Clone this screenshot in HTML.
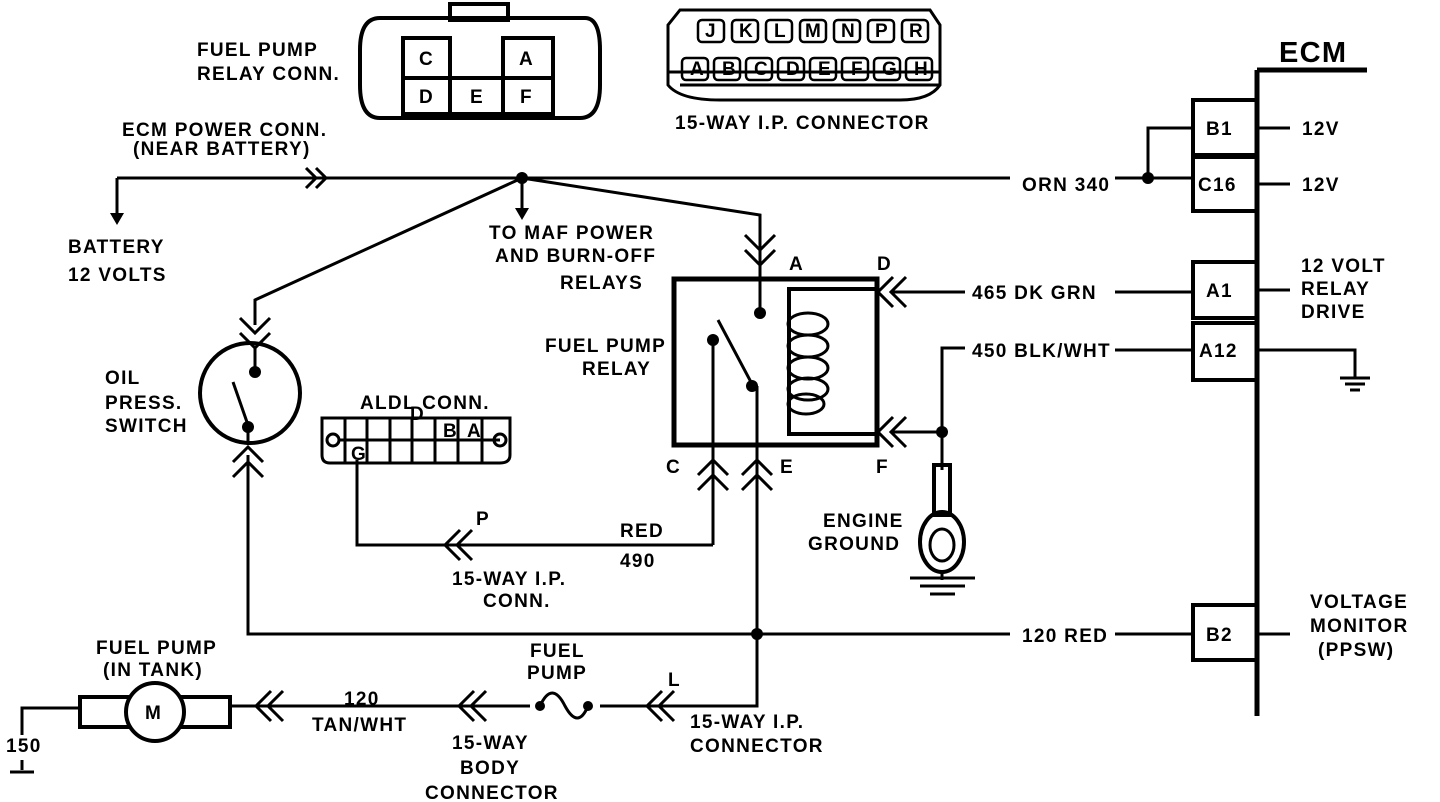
<!DOCTYPE html>
<html><head><style>
html,body{margin:0;padding:0;background:#fff;width:1440px;height:802px;overflow:hidden}
svg text{font-family:"Liberation Sans",sans-serif;font-weight:bold;font-size:19px;letter-spacing:1.3px;fill:#000}
</style></head><body>
<svg width="1440" height="802" viewBox="0 0 1440 802" xmlns="http://www.w3.org/2000/svg">
<g stroke="#000" fill="none" stroke-width="3">
<line x1="1257" y1="70" x2="1257" y2="716" stroke-width="5"/>
<line x1="1257" y1="70" x2="1367" y2="70" stroke-width="5"/>
<rect x="1193" y="100" width="64" height="55" stroke-width="4"/>
<rect x="1193" y="157" width="64" height="54" stroke-width="4"/>
<rect x="1193" y="262" width="64" height="56" stroke-width="4"/>
<rect x="1193" y="323" width="64" height="57" stroke-width="4"/>
<rect x="1193" y="605" width="64" height="55" stroke-width="4"/>
<line x1="1257" y1="128" x2="1290" y2="128"/>
<line x1="1257" y1="184" x2="1290" y2="184"/>
<line x1="1257" y1="290" x2="1290" y2="290"/>
<line x1="1257" y1="634" x2="1290" y2="634"/>
<polyline points="1257,350 1355,350 1355,378"/>
<line x1="1340" y1="378" x2="1370" y2="378"/><line x1="1345" y1="384" x2="1365" y2="384"/><line x1="1350" y1="390" x2="1360" y2="390"/>
<polyline points="1193,128 1148,128 1148,178"/>
<line x1="117" y1="178" x2="1010" y2="178"/>
<line x1="1115" y1="178" x2="1193" y2="178"/>
<line x1="117" y1="178" x2="117" y2="215"/>
<polyline points="306,168 316,178 306,188" /><polyline points="316,168 326,178 316,188"/>
<line x1="522" y1="178" x2="522" y2="210"/>
<polyline points="522,178 255,300 255,325"/>
<polyline points="522,178 760,215 760,312"/>
<polyline points="745,235 760,250 775,235"/><polyline points="745,250 760,265 775,250"/>
<polyline points="240,318 255,333 270,318"/><polyline points="240,333 255,348 270,333"/>
<circle cx="250" cy="393" r="50" stroke-width="4"/>
<line x1="255" y1="348" x2="255" y2="370"/>
<line x1="233" y1="382" x2="248" y2="425"/>
<line x1="248" y1="428" x2="248" y2="445"/>
<polyline points="233,462 248,447 263,462"/><polyline points="233,477 248,462 263,477"/>
<polyline points="248,455 248,634 1010,634"/>
<line x1="1115" y1="634" x2="1193" y2="634"/>
<rect x="674" y="279" width="203" height="166" stroke-width="5"/>
<polyline points="877,289 789,289 789,434 877,434" stroke-width="4"/>
<g stroke-width="3">
<ellipse cx="808" cy="324" rx="20" ry="11"/><ellipse cx="808" cy="346" rx="20" ry="11"/>
<ellipse cx="808" cy="368" rx="20" ry="11"/><ellipse cx="808" cy="389" rx="20" ry="11"/>
<ellipse cx="806" cy="404" rx="18" ry="10"/></g>
<line x1="760" y1="279" x2="760" y2="312"/>
<line x1="713" y1="340" x2="713" y2="545"/>
<line x1="718" y1="320" x2="752" y2="384"/>
<line x1="757" y1="386" x2="757" y2="705"/>
<polyline points="698,475 713,460 728,475"/><polyline points="698,490 713,475 728,490"/>
<polyline points="742,475 757,460 772,475"/><polyline points="742,490 757,475 772,490"/>
<polyline points="893,277 878,292 893,307"/><polyline points="906,277 891,292 906,307"/>
<line x1="891" y1="292" x2="965" y2="292"/><line x1="1115" y1="292" x2="1193" y2="292"/>
<polyline points="893,417 878,432 893,447"/><polyline points="906,417 891,432 906,447"/>
<polyline points="891,432 942,432"/>
<polyline points="942,470 942,348 965,348"/>
<line x1="1115" y1="350" x2="1193" y2="350"/>
<rect x="934" y="465" width="16" height="50" stroke-width="4"/>
<ellipse cx="942" cy="542" rx="22" ry="30" stroke-width="4"/>
<ellipse cx="942" cy="545" rx="12" ry="16" stroke-width="3"/>
<line x1="942" y1="572" x2="942" y2="580"/>
<line x1="910" y1="578" x2="975" y2="578"/><line x1="920" y1="586" x2="965" y2="586"/><line x1="930" y1="594" x2="955" y2="594"/>
<polyline points="713,545 357,545 357,460"/>
<polyline points="460,530 445,545 460,560"/><polyline points="472,530 457,545 472,560"/>
<path d="M322,418 H510 V455 Q510,463 500,463 H330 Q322,463 322,455 Z"/>
<line x1="340" y1="440" x2="500" y2="440"/>
<line x1="345" y1="418" x2="345" y2="463"/><line x1="367" y1="418" x2="367" y2="463"/>
<line x1="390" y1="418" x2="390" y2="463"/><line x1="412" y1="418" x2="412" y2="463"/>
<line x1="435" y1="418" x2="435" y2="463"/><line x1="458" y1="418" x2="458" y2="463"/>
<line x1="482" y1="418" x2="482" y2="463"/>
<circle cx="333" cy="440" r="6"/><circle cx="500" cy="440" r="6"/>
<polyline points="757,634 757,706 230,706"/>
<polyline points="662,691 647,706 662,721"/><polyline points="674,691 659,706 674,721"/>
<polyline points="474,691 459,706 474,721"/><polyline points="486,691 471,706 486,721"/>
<polyline points="271,691 256,706 271,721"/><polyline points="283,691 268,706 283,721"/>
<rect x="530" y="698" width="70" height="16" fill="#fff" stroke="none"/>
<path d="M540,706 Q552,680 565,706 Q578,730 588,706"/>
<rect x="80" y="697" width="150" height="30" stroke-width="4"/>
<circle cx="155" cy="712" r="29" fill="#fff" stroke-width="4"/>
<polyline points="80,708 22,708 22,735"/>
<line x1="22" y1="760" x2="22" y2="770"/><line x1="10" y1="772" x2="34" y2="772"/>
<path d="M380,18 H585 Q600,18 600,50 V85 Q600,118 580,118 H380 Q360,118 360,85 V50 Q360,18 380,18 Z" stroke-width="4"/>
<rect x="450" y="4" width="58" height="16" stroke-width="4"/>
<rect x="403" y="38" width="47" height="40" stroke-width="4"/>
<rect x="403" y="78" width="47" height="36" stroke-width="4"/>
<rect x="450" y="78" width="53" height="36" stroke-width="4"/>
<rect x="503" y="38" width="50" height="40" stroke-width="4"/>
<rect x="503" y="78" width="50" height="36" stroke-width="4"/>
<path d="M680,10 H930 L940,25 V85 Q930,100 900,100 H720 Q680,100 668,85 V25 Z" stroke-width="3"/>
<line x1="668" y1="72" x2="940" y2="72"/>
<line x1="680" y1="85" x2="940" y2="85"/>
<g stroke-width="2.5">
<rect x="698" y="20" width="26" height="22" rx="4"/><rect x="732" y="20" width="26" height="22" rx="4"/>
<rect x="766" y="20" width="26" height="22" rx="4"/><rect x="800" y="20" width="26" height="22" rx="4"/>
<rect x="834" y="20" width="26" height="22" rx="4"/><rect x="868" y="20" width="26" height="22" rx="4"/>
<rect x="902" y="20" width="26" height="22" rx="4"/>
<rect x="682" y="58" width="26" height="22" rx="4"/><rect x="714" y="58" width="26" height="22" rx="4"/>
<rect x="746" y="58" width="26" height="22" rx="4"/><rect x="778" y="58" width="26" height="22" rx="4"/>
<rect x="810" y="58" width="26" height="22" rx="4"/><rect x="842" y="58" width="26" height="22" rx="4"/>
<rect x="874" y="58" width="26" height="22" rx="4"/><rect x="906" y="58" width="26" height="22" rx="4"/>
</g>
</g>
<g fill="#000">
<circle cx="522" cy="178" r="6"/><circle cx="1148" cy="178" r="6"/>
<circle cx="760" cy="313" r="6"/><circle cx="713" cy="340" r="6"/><circle cx="752" cy="386" r="6"/>
<circle cx="255" cy="372" r="6"/><circle cx="248" cy="427" r="6"/>
<circle cx="942" cy="432" r="6"/><circle cx="757" cy="634" r="6"/>
<circle cx="540" cy="706" r="5"/><circle cx="588" cy="706" r="5"/>
<polygon points="110,213 124,213 117,225"/><polygon points="515,208 529,208 522,220"/>
</g>
<g>
<text x="1279" y="62" style="font-size:29px">ECM</text>
<text x="1206" y="135">B1</text><text x="1198" y="191">C16</text>
<text x="1206" y="297">A1</text><text x="1199" y="357">A12</text><text x="1206" y="641">B2</text>
<text x="1302" y="135">12V</text><text x="1302" y="191">12V</text>
<text x="1301" y="272">12 VOLT</text><text x="1301" y="295">RELAY</text><text x="1301" y="318">DRIVE</text>
<text x="1310" y="608">VOLTAGE</text><text x="1310" y="632">MONITOR</text><text x="1318" y="656">(PPSW)</text>
<text x="1022" y="191">ORN 340</text>
<text x="972" y="299">465 DK GRN</text>
<text x="972" y="357">450 BLK/WHT</text>
<text x="1022" y="642">120 RED</text>
<text x="122" y="136">ECM POWER CONN.</text><text x="133" y="155">(NEAR BATTERY)</text>
<text x="68" y="253">BATTERY</text><text x="68" y="281">12 VOLTS</text>
<text x="489" y="239">TO MAF POWER</text><text x="495" y="262">AND BURN-OFF</text><text x="560" y="289">RELAYS</text>
<text x="545" y="352">FUEL PUMP</text><text x="582" y="375">RELAY</text>
<text x="105" y="384">OIL</text><text x="105" y="409">PRESS.</text><text x="105" y="432">SWITCH</text>
<text x="360" y="409">ALDL CONN.</text>
<text x="789" y="270">A</text><text x="877" y="270">D</text>
<text x="666" y="473">C</text><text x="780" y="473">E</text><text x="876" y="473">F</text>
<text x="823" y="527">ENGINE</text><text x="808" y="550">GROUND</text>
<text x="476" y="525">P</text>
<text x="620" y="537">RED</text><text x="620" y="567">490</text>
<text x="452" y="585">15-WAY I.P.</text><text x="483" y="607">CONN.</text>
<text x="96" y="654">FUEL PUMP</text><text x="103" y="676">(IN TANK)</text>
<text x="145" y="719">M</text>
<text x="344" y="705">120</text><text x="312" y="731">TAN/WHT</text>
<text x="530" y="657">FUEL</text><text x="527" y="679">PUMP</text>
<text x="668" y="686">L</text>
<text x="690" y="728">15-WAY I.P.</text><text x="690" y="752">CONNECTOR</text>
<text x="452" y="749">15-WAY</text><text x="460" y="774">BODY</text><text x="425" y="799">CONNECTOR</text>
<text x="6" y="752">150</text>
<text x="197" y="56">FUEL PUMP</text><text x="197" y="80">RELAY CONN.</text>
<text x="419" y="65">C</text><text x="519" y="65">A</text><text x="419" y="103">D</text><text x="470" y="103">E</text><text x="520" y="103">F</text>
<text x="675" y="129">15-WAY I.P. CONNECTOR</text>
<g style="font-size:14px;letter-spacing:0">
<text x="705" y="37">J</text><text x="739" y="37">K</text><text x="774" y="37">L</text><text x="805" y="37">M</text>
<text x="841" y="37">N</text><text x="875" y="37">P</text><text x="909" y="37">R</text>
<text x="690" y="75">A</text><text x="722" y="75">B</text><text x="754" y="75">C</text><text x="786" y="75">D</text>
<text x="818" y="75">E</text><text x="851" y="75">F</text><text x="882" y="75">G</text><text x="914" y="75">H</text>
</g>
<g style="font-size:12px;letter-spacing:0">
<text x="351" y="460">G</text><text x="443" y="437">B</text><text x="467" y="437">A</text><text x="410" y="420">D</text>
</g>
</g>
</svg>
</body></html>
